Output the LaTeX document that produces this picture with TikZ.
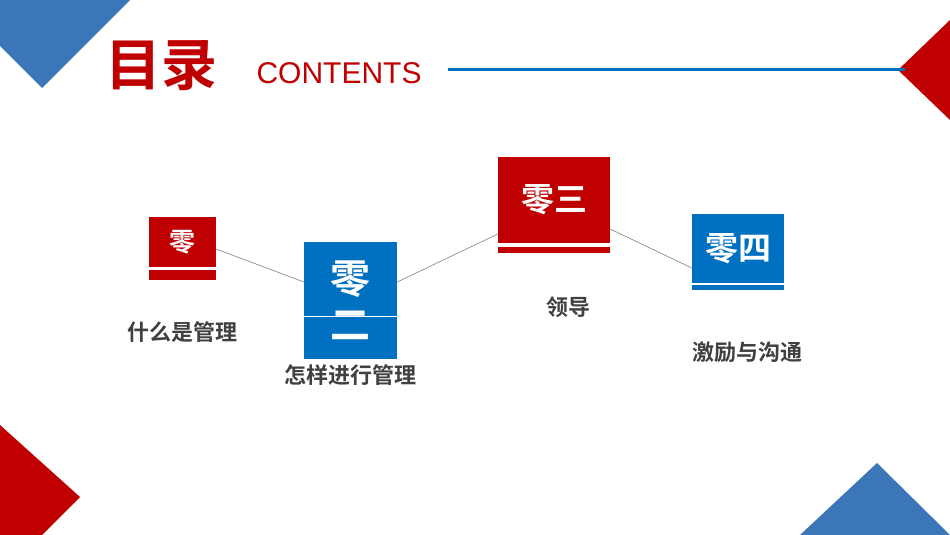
\documentclass[tikz,border=0pt]{standalone}
\usepackage{fontspec}
\setmainfont{Liberation Sans}
\newfontfamily\cjk{Noto Sans CJK SC}[BoldFont={Noto Sans CJK SC Bold}]
\definecolor{myred}{HTML}{C00000}
\definecolor{myblue}{HTML}{0070C0}
\definecolor{triblue}{HTML}{3A76B8}
\definecolor{gtxt}{HTML}{404040}
\begin{document}
\begin{tikzpicture}[x=1pt,y=-1pt,
  lbl/.style={font=\cjk\bfseries\fontsize{22}{22}\selectfont,text=gtxt},
  btxt/.style={font=\cjk\bfseries\fontsize{33}{33}\selectfont,text=white},
  conn/.style={draw=gray,line width=0.6pt}]
\useasboundingbox (0,0) rectangle (950,535);
\fill[white] (0,0) rectangle (950,535);
% corner shapes
\fill[triblue] (0,0) -- (130,0) -- (42,88) -- (0,46) -- cycle;
\fill[myred] (950,20) -- (898,70) -- (950,120) -- cycle;
\fill[myred] (0,425) -- (80,497) -- (42,535) -- (0,535) -- cycle;
\fill[triblue] (800,535) -- (877,463) -- (950,535) -- cycle;
% title
\node[font=\cjk\bfseries\fontsize{56}{56}\selectfont,text=myred] (ttl) at (161,66) {目录};
\node[font=\fontsize{30}{30}\selectfont,text=myred,anchor=west] (cont) at (253,73) {CONTENTS};
\draw[myblue,line width=3pt] (448,70) -- (905,70);
% boxes
\fill[myred] (149,270) rectangle (216,280);
\node[fill=myred,minimum width=67,minimum height=50,inner sep=0,btxt,font=\cjk\bfseries\fontsize{26}{26}\selectfont] (b1) at (182.5,242) {零};
\fill[myred] (498,247) rectangle (610,253);
\node[fill=myred,minimum width=112,minimum height=86,inner sep=0,btxt] (b3) at (554,200) {零三};
\fill[myblue] (692,285) rectangle (784,290);
\node[fill=myblue,minimum width=92,minimum height=69,inner sep=0,btxt] (b4) at (738,248.5) {零四};
\node[fill=myblue,minimum width=93,minimum height=117,inner sep=0,align=center,btxt,font=\cjk\bfseries\fontsize{40}{46}\selectfont] (b2) at (350.5,300.5) {零\\二};
\draw[white,line width=0.8pt] (304,316) -- (397,316);
% connectors
\draw[conn] (b1.east) ++(0,7) coordinate (c1) -- ([yshift=18.5]b2.west);
\draw[conn] ([yshift=18.5]b2.east) -- ([yshift=-34]b3.west);
\draw[conn] ([yshift=-29]b3.east) -- ([yshift=-19.5]b4.west);
% labels
\node[lbl] (l1) at (182,332) {什么是管理};
\node[lbl] (l2) at (350,375) {怎样进行管理};
\node[lbl] (l3) at (568,307) {领导};
\node[lbl] (l4) at (747,352) {激励与沟通};
\end{tikzpicture}
\end{document}
